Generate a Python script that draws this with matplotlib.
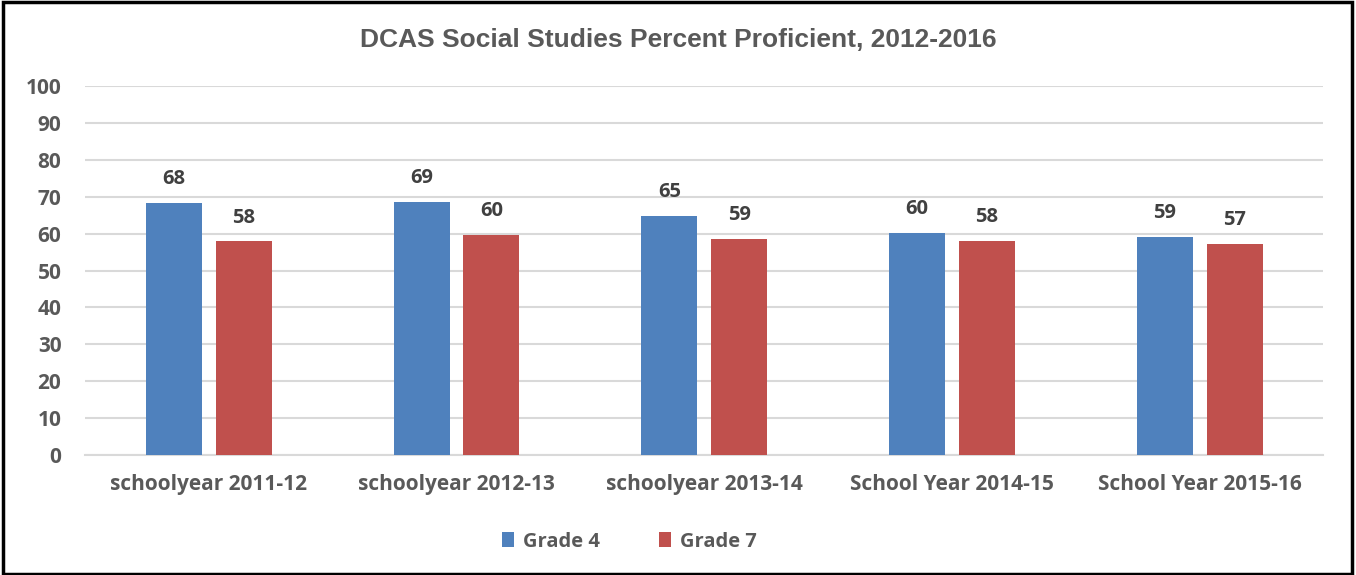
import numpy as np
import matplotlib.pyplot as plt
from matplotlib.patches import Rectangle

categories = ['schoolyear 2011-12', 'schoolyear 2012-13', 'schoolyear 2013-14',
              'School Year 2014-15', 'School Year 2015-16']
grade4 = [68.4, 68.6, 64.9, 60.3, 59.0]
grade7 = [57.9, 59.6, 58.6, 58.1, 57.1]
yticks = [0, 10, 20, 30, 40, 50, 60, 70, 80, 90, 100]

blue = '#4F81BD'
red = '#C0504D'
grey = '#595959'
dark = '#404040'

plt.rcParams['font.family'] = ['Open Sans', 'DejaVu Sans']

fig = plt.figure(figsize=(13.56, 5.75), dpi=100)
ax = fig.add_axes([0.0627, 0.209, 0.9133, 0.641])

x = np.arange(len(categories))
w = 0.226
off = 0.141
b1 = ax.bar(x - off, grade4, w, color=blue, label='Grade 4', zorder=3)
b2 = ax.bar(x + off, grade7, w, color=red, label='Grade 7', zorder=3)

for bars, vals in ((b1, grade4), (b2, grade7)):
    for rect, v in zip(bars, vals):
        ax.annotate(f'{v:.0f}', (rect.get_x() + rect.get_width() / 2, v),
                    xytext=(0, 10), textcoords='offset points', ha='center',
                    va='bottom', fontsize=14.5, fontweight='bold', color=dark)

ax.set_xlim(-0.5, len(categories) - 0.5)
ax.set_ylim(0, 100)
ax.set_yticks(yticks)
ax.set_xticks(x)
ax.set_xticklabels(categories)
ax.tick_params(axis='both', length=0, labelsize=15, labelcolor=grey)
ax.tick_params(axis='x', pad=14)
ax.tick_params(axis='y', pad=17)
for lbl in ax.get_xticklabels() + ax.get_yticklabels():
    lbl.set_fontweight('bold')
ax.grid(axis='y', color='#d9d9d9', linewidth=1.5, zorder=0)
for s in ['top', 'right', 'left']:
    ax.spines[s].set_visible(False)
ax.spines['bottom'].set_color('#d9d9d9')
ax.spines['bottom'].set_linewidth(1.5)

fig.text(0.5, 0.93, 'DCAS Social Studies Percent Proficient, 2012-2016',
         ha='center', va='center', fontsize=19, fontweight='bold', color=grey,
         family=['Liberation Sans', 'DejaVu Sans'])

leg = fig.legend(handles=[b1, b2], loc='center', bbox_to_anchor=(0.464, 0.058),
                 ncol=2, frameon=False, fontsize=14.5, handlelength=0.6,
                 handleheight=0.75, handletextpad=0.45, columnspacing=2.9)
for t in leg.get_texts():
    t.set_color(grey)
    t.set_fontweight('bold')

fig.patches.append(Rectangle((0.002, 0.002), 0.995, 0.994, transform=fig.transFigure,
                             fill=False, edgecolor='black', linewidth=2.5))

fig.savefig('out.png', dpi=100)
